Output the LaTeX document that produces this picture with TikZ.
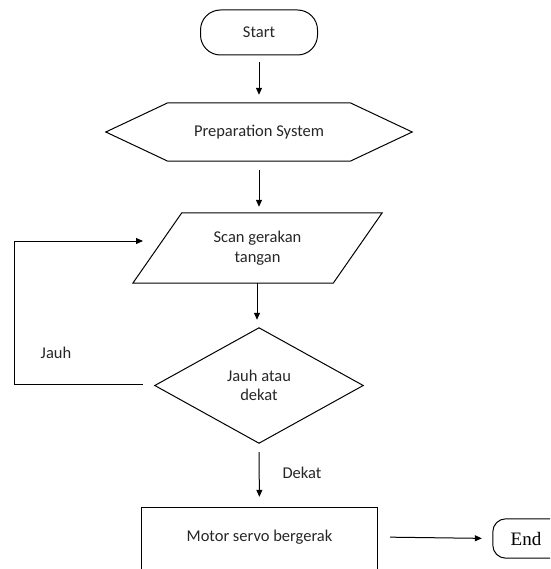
\documentclass[tikz,border=0pt]{standalone}
\usepackage{fontspec}
\setmainfont{Carlito}
\newfontfamily\endfont{Liberation Serif}
\usetikzlibrary{arrows.meta}
\tikzset{
  box/.style={inner sep=0pt, minimum width=#1},
  txt/.style={font=\fontsize{16.5}{19.5}\selectfont, align=center, text=black!85},
  shapeline/.style={draw=black, line width=1pt},
  arr/.style={draw=black, line width=1pt, -{Triangle[length=7pt,width=6pt]}},
  plain/.style={draw=black, line width=1pt}
}
\begin{document}
\begin{tikzpicture}[x=1pt,y=-1pt]
\useasboundingbox (0,0) rectangle (550,569);
\clip (0,0) rectangle (550,569);
% Start
\node[box=117, minimum height=45, txt, draw=black, line width=1pt, rounded corners=20pt] (start) at (259,32.5) {Start};
% Preparation (hexagon)
\node[box=306, minimum height=58, txt] (prep) at (259,132) {Preparation System};
\draw[shapeline] (prep.west) -- ([xshift=62pt]prep.north west) -- ([xshift=-62pt]prep.north east)
  -- (prep.east) -- ([xshift=-62pt]prep.south east) -- ([xshift=62pt]prep.south west) -- cycle;
% Scan (parallelogram)
\node[box=249, minimum height=70, txt] (scan) at (257.5,248) {Scan gerakan\\tangan};
\draw[shapeline] ([xshift=49pt]scan.north west) -- (scan.north east) -- ([xshift=-49pt]scan.south east)
  -- (scan.south west) -- cycle;
% Decision (diamond)
\node[box=208, minimum height=115, txt] (dia) at (259,385.5) {Jauh atau\\dekat};
\draw[shapeline] (dia.north) -- (dia.east) -- (dia.south) -- (dia.west) -- cycle;
% Motor
\node[box=235, minimum height=58, txt] (motor) at (259.5,537) {Motor servo bergerak};
\draw[shapeline] (motor.south west) ++(0,-20pt) |- (motor.north east) -- ++(0,78);
% End
\node[box=66, minimum height=39, font=\endfont\fontsize{19}{22}\selectfont] (end) at (526,538.5) {End};
\draw[shapeline, rounded corners=13pt] (end.south west) rectangle ([xshift=30pt]end.north east);
% connectors
\draw[arr, shorten <=7pt, shorten >=8pt] (start.south) -- (prep.north);
\draw[arr, shorten <=9pt, shorten >=6pt] (prep.south) -- (scan.north -| prep.south);
\draw[arr, shorten >=8pt] (scan.south -| dia.north) ++(-2pt,0) coordinate (sb) -- (sb |- dia.north);
\draw[arr, shorten >=11pt] (dia.south) ++(0,9) -- (motor.north);
\node[txt, anchor=center] (dekat) at (302,473) {Dekat};
\coordinate (lc) at (14,241);
\coordinate (pin) at (143,241);
\draw[plain] ([xshift=-12pt,yshift=1.5pt]dia.west) -| (lc);
\draw[arr] (lc) -- (pin);
\node[txt] (jauh) at (56,353) {Jauh};
\draw[arr, shorten <=13pt, shorten >=11pt] (motor.east) -- (end.west);
\end{tikzpicture}
\end{document}
